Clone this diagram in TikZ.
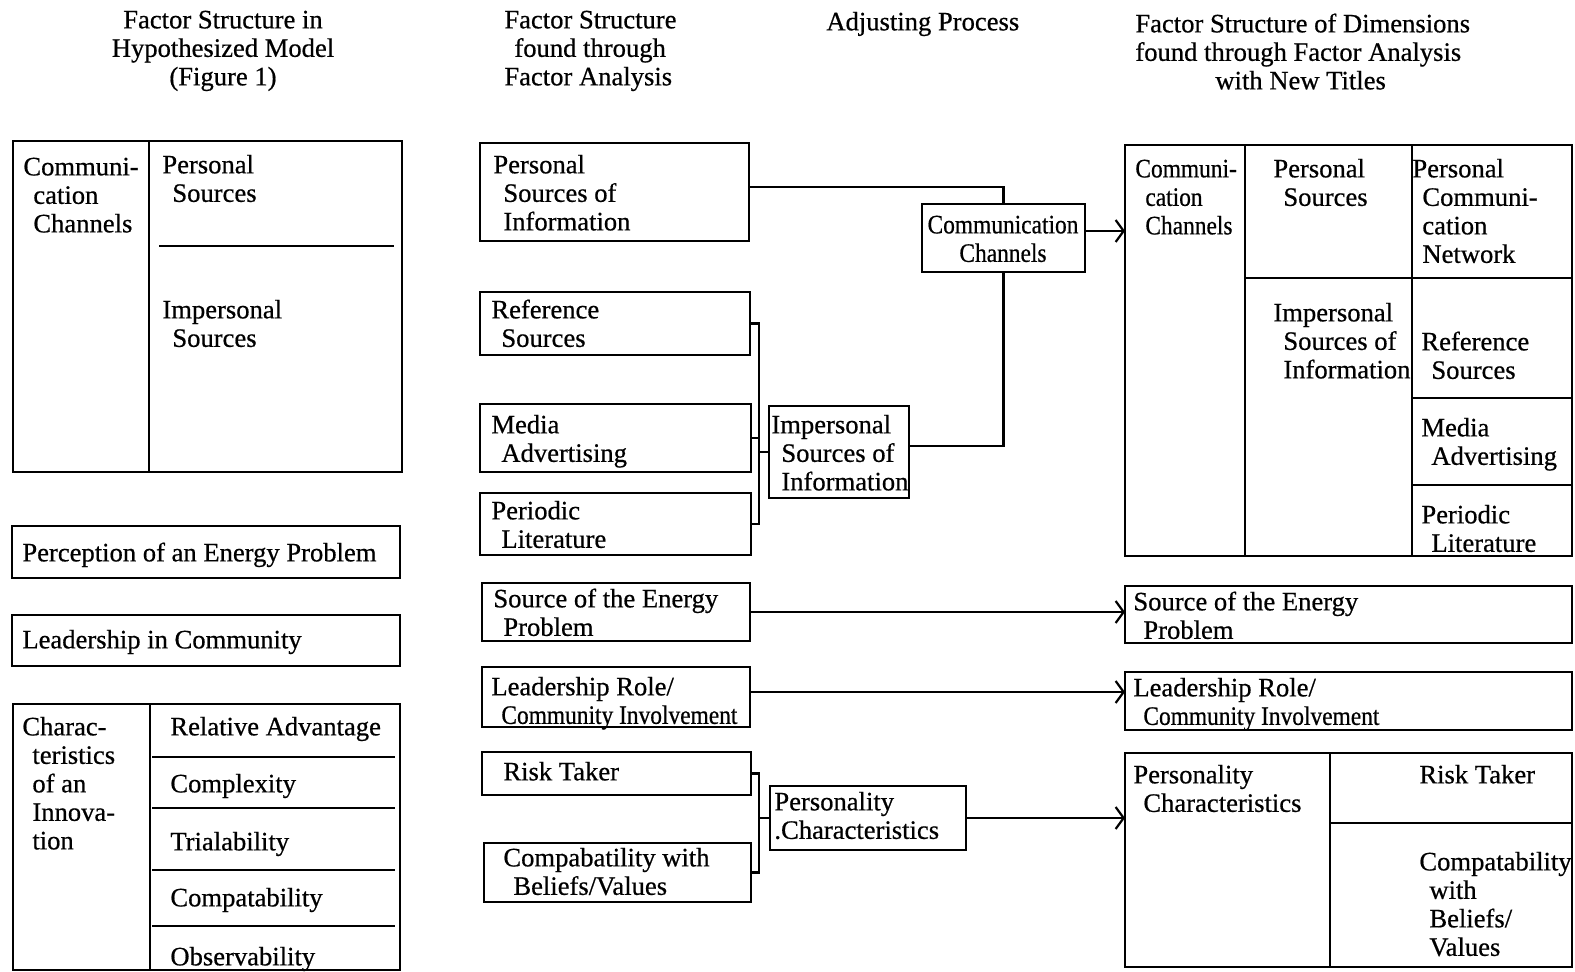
\documentclass[tikz,border=0pt]{standalone}
\usepackage{fontspec}
\setmainfont{Liberation Serif}[FakeBold=0.6]
\newfontfamily\cond{Liberation Serif}[FakeStretch=0.88,FakeBold=0.6]
\usetikzlibrary{arrows.meta}
\newcommand\idt{\hspace*{5pt}}
\newcommand\bx[5]{\node[box,anchor=north west,minimum width={(#4-#2)*0.5pt},minimum height={(#5-#3)*0.5pt}] (#1) at (#2,#3) {};}
\newcommand\tx[4]{\node[txt] (#1) at (#2,#3-12) {\strut#4};}
\begin{document}
\begin{tikzpicture}[x=0.5pt,y=-0.5pt,
  box/.style={draw,line width=1.1pt,inner sep=0pt,outer sep=0pt},
  txt/.style={anchor=north west,align=left,inner sep=0pt,font=\fontsize{13.3}{14.25}\selectfont},
  ln/.style={line width=1.1pt},
  arr/.style={line width=1.1pt,-{Straight Barb[length=4pt,width=11pt,line width=1.1pt]}}]
\useasboundingbox (0,0) rectangle (1575,972);

% ---------- headers ----------
\node[txt,anchor=north,align=center] (h1) at (223,20-12) {\strut Factor Structure in\\Hypothesized Model\\(Figure 1)};
\tx{h2}{504}{20}{Factor Structure\\\idt found through\\Factor Analysis}
\tx{h3}{826}{22}{Adjusting Process}
\tx{h4}{1135}{24}{Factor Structure of Dimensions\\found through Factor Analysis\\\hspace*{40pt}with New Titles}

% ---------- left column ----------
\bx{lA}{13}{141}{402}{472}
\draw[ln] (149,141) -- (149,472);
\draw[ln] (159,246) -- (394,246);
\tx{lAt}{23}{167}{Communi-\\\idt cation\\\idt Channels}
\tx{lAp}{162}{165}{Personal\\\idt Sources}
\tx{lAi}{162}{310}{Impersonal\\\idt Sources}

\bx{lper}{12}{526}{400}{578}
\tx{lpert}{22}{553}{Perception of an Energy Problem}
\bx{llead}{12}{615}{400}{666}
\tx{lleadt}{22}{640}{Leadership in Community}

\bx{lchar}{13}{704}{400}{970}
\draw[ln] (150,704) -- (150,970);
\foreach \yy in {757,808,870,926} \draw[ln] (152,\yy) -- (395,\yy);
\tx{lchart}{22}{727}{Charac-\\\idt teristics\\\idt of an\\\idt Innova-\\\idt tion}
\tx{lc1}{170}{727}{Relative Advantage}
\tx{lc2}{170}{784}{Complexity}
\tx{lc3}{170}{842}{Trialability}
\tx{lc4}{170}{898}{Compatability}
\tx{lc5}{170}{957}{Observability}

% ---------- middle column ----------
\bx{mps}{480}{143}{749}{241}
\tx{mpst}{493}{165}{Personal\\\idt Sources of\\\idt Information}
\bx{mref}{480}{292}{750}{355}
\tx{mreft}{491}{310}{Reference\\\idt Sources}
\bx{mmed}{480}{404}{751}{472}
\tx{mmedt}{491}{425}{Media\\\idt Advertising}
\bx{mper}{480}{493}{751}{555}
\tx{mpert}{491}{511}{Periodic\\\idt Literature}

\bx{mis}{769}{406}{909}{498}
\tx{mist}{771}{425}{Impersonal\\\idt Sources of\\\idt Information}
\bx{cc}{922}{204}{1085}{272}
\node[txt,anchor=north,align=center,font=\fontsize{13.3}{14.25}\cond] (cct) at (1003,225-12) {\strut Communication\\Channels};

\bx{msrc}{482}{583}{750}{641}
\tx{msrct}{493}{599}{Source of the Energy\\\idt Problem}
\bx{mlead}{482}{667}{750}{727}
\tx{mleadt}{491}{687}{Leadership Role/\\\idt{\cond Community Involvement}}
\bx{mrisk}{482}{752}{751}{795}
\tx{mriskt}{503}{772}{Risk Taker}
\bx{mcomp}{484}{843}{751}{902}
\tx{mcompt}{503}{858}{Compabatility with\\\idt Beliefs/Values}
\bx{mpc}{770}{786}{966}{850}
\tx{mpct}{774}{802}{Personality\\.Characteristics}

% ---------- right column ----------
\bx{rbig}{1125}{145}{1572}{556}
\draw[ln] (1245,145) -- (1245,556);
\draw[ln] (1412,145) -- (1412,556);
\draw[ln] (1245,278) -- (1572,278);
\draw[ln] (1412,398) -- (1572,398);
\draw[ln] (1412,485) -- (1572,485);
\node[txt,font=\fontsize{13.3}{14.25}\cond] (rbt1) at (1135,169-12) {\strut Communi-\\\idt cation\\\idt Channels};
\tx{rbt2}{1273}{169}{Personal\\\idt Sources}
\tx{rbt3}{1412}{169}{Personal\\\idt Communi-\\\idt cation\\\idt Network}
\tx{rbt4}{1273}{313}{Impersonal\\\idt Sources of\\\idt Information}
\tx{rbt5}{1421}{342}{Reference\\\idt Sources}
\tx{rbt6}{1421}{428}{Media\\\idt Advertising}
\tx{rbt7}{1421}{515}{Periodic\\\idt Literature}

\bx{rsrc}{1125}{586}{1572}{643}
\tx{rsrct}{1133}{602}{Source of the Energy\\\idt Problem}
\bx{rlead}{1125}{672}{1572}{730}
\tx{rleadt}{1133}{688}{Leadership Role/\\\idt{\cond Community Involvement}}
\bx{rpc}{1125}{753}{1572}{967}
\draw[ln] (1330,753) -- (1330,967);
\draw[ln] (1330,823) -- (1572,823);
\tx{rpct}{1133}{775}{Personality\\\idt Characteristics}
\tx{rpc1}{1419}{775}{Risk Taker}
\tx{rpc2}{1419}{862}{Compatability\\\idt with\\\idt Beliefs/\\\idt Values}

% ---------- connectors ----------
\coordinate (bus1) at (759,0);
\coordinate (bus2) at (759,0);
\draw[ln] ([yshift=2.5pt]mps.east) -| (cc.north);
\draw[ln] ([yshift=3pt]mis.east) -| (cc.south);
\coordinate (ccout) at ([yshift=3.5pt]cc.east);
\draw[arr] (ccout) -- (ccout -| rbig.west);

\draw[ln] (mref.east) -- (mref.east -| bus1) -- (mper.east -| bus1) -- (mper.east);
\draw[ln] (mmed.east) -- (mmed.east -| bus1);
\draw[ln] (mis.west -| bus1) -- (mis.west);

\draw[ln] (mrisk.east) -- (mrisk.east -| bus2) -- (mcomp.east -| bus2) -- (mcomp.east);
\draw[ln] (mpc.west -| bus2) -- (mpc.west);

\draw[arr] (msrc.east) -- (msrc.east -| rsrc.west);
\coordinate (mleadout) at ([yshift=2.5pt]mlead.east);
\draw[arr] (mleadout) -- (mleadout -| rlead.west);
\draw[arr] (mpc.east) -- (mpc.east -| rpc.west);
\end{tikzpicture}
\end{document}
